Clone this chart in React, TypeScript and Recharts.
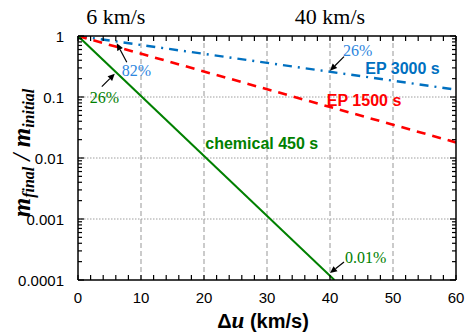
import React from "react";
import { LineChart, Line, XAxis, YAxis, ReferenceLine, ReferenceDot } from "recharts";

const SERIF = "'Times New Roman', 'Liberation Serif', serif";
const SANS = "Arial, 'Liberation Sans', sans-serif";

const BLUE = "#0070C0";
const LIGHT_BLUE = "#2E86DE";
const RED = "#FF0000";
const GREEN = "#008000";

// mass ratio m_final / m_initial against delta-u (km/s)
const chemical = [
  { du: 0, m: 1 },
  { du: 40.7, m: 0.0001 },
];
const ep1500 = [
  { du: 0, m: 1 },
  { du: 60, m: 0.018 },
];
const ep3000 = [
  { du: 0, m: 1 },
  { du: 60, m: 0.132 },
];

const xTicks = [0, 10, 20, 30, 40, 50, 60];
const xMinor = Array.from({ length: 31 }, (_, i) => i * 2);
const yTicks = [1, 0.1, 0.01, 0.001, 0.0001];
const yTickLabels = ["1", "0.1", "0.01", "0.001", "0.0001"];
const yMinor = yTicks
  .slice(1)
  .flatMap((d) => [1, 2, 3, 4, 5, 6, 7, 8, 9].map((k) => k * d))
  .concat([1]);

const topLabels = [
  { du: 6, text: "6 km/s" },
  { du: 40, text: "40 km/s" },
];

const callouts = [
  { du: 6, m: 0.82, text: "82%", color: LIGHT_BLUE, tip: [1, 2], tail: [11, 21], txt: [6, 35] },
  { du: 6, m: 0.26, text: "26%", color: GREEN, tip: [-1, 2], tail: [-14, 15], txt: [-26, 31] },
  { du: 40, m: 0.26, text: "26%", color: LIGHT_BLUE, tip: [0, -1], tail: [14, -15], txt: [13, -16] },
  { du: 40, m: 0.0001, text: "0.01%", color: GREEN, tip: [0, -7], tail: [14, -18], txt: [15, -17] },
];

const seriesLabels = [
  { du: 45.6, m: 0.238, text: "EP 3000 s", color: BLUE },
  { du: 39.5, m: 0.0711, text: "EP 1500 s", color: RED },
  { du: 20.2, m: 0.0141, text: "chemical 450 s", color: GREEN },
];

const isDecade = (v: number) => Math.abs(Math.log10(v) - Math.round(Math.log10(v))) < 1e-6;

function BottomTick({ x, y, payload }: any) {
  const v = payload.value;
  return (
    <g>
      <line x1={x} y1={y} x2={x} y2={y - 5} stroke="#000" strokeWidth={1.2} />
      {xTicks.includes(v) && (
        <text x={x} y={y + 23} textAnchor="middle" fontFamily={SANS} fontSize={15} fill="#000">
          {v}
        </text>
      )}
    </g>
  );
}

function TopTick({ x, y, payload }: any) {
  const v = payload.value;
  const lab = topLabels.find((t) => t.du === v);
  return (
    <g>
      <line x1={x} y1={y} x2={x} y2={y + 5} stroke="#000" strokeWidth={1.2} />
      {lab && (
        <text x={x} y={y - 12} textAnchor="middle" fontFamily={SERIF} fontSize={22} fill="#000">
          {lab.text}
        </text>
      )}
    </g>
  );
}

function LeftTick({ x, y, payload }: any) {
  const v = payload.value;
  const major = isDecade(v);
  const idx = yTicks.findIndex((t) => Math.abs(t - v) / t < 1e-6);
  return (
    <g>
      <line x1={x} y1={y} x2={x + (major ? 6 : 4)} y2={y} stroke="#000" strokeWidth={1.2} />
      {idx >= 0 && (
        <text x={x - 14} y={y + 5.5} textAnchor="end" fontFamily={SANS} fontSize={15} fill="#000">
          {yTickLabels[idx]}
        </text>
      )}
    </g>
  );
}

function RightTick({ x, y, payload }: any) {
  const major = isDecade(payload.value);
  return <line x1={x} y1={y} x2={x - (major ? 6 : 4)} y2={y} stroke="#000" strokeWidth={1.2} />;
}

function YLabel({ viewBox }: any) {
  const cx = viewBox.x - 47;
  const cy = viewBox.y + viewBox.height / 2 - 5;
  return (
    <text
      x={cx}
      y={cy}
      transform={`rotate(-90, ${cx}, ${cy})`}
      textAnchor="middle"
      fontFamily={SERIF}
      fontWeight="bold"
      fontStyle="italic"
      fontSize={25}
      fill="#000"
    >
      <tspan>m</tspan>
      <tspan fontSize={16} dy={4}>final</tspan>
      <tspan dy={-4}> / m</tspan>
      <tspan fontSize={16} dy={4}>initial</tspan>
    </text>
  );
}

function XLabel({ viewBox }: any) {
  const cx = viewBox.x + viewBox.width / 2 - 4;
  const cy = viewBox.y + 48;
  return (
    <text x={cx} y={cy} textAnchor="middle" fontSize={20} fontWeight="bold" fill="#000" fontFamily={SANS}>
      <tspan>Δ</tspan>
      <tspan fontFamily={SERIF} fontStyle="italic" fontSize={23}>u</tspan>
      <tspan> (km/s)</tspan>
    </text>
  );
}

function Callout({ cx, cy, c }: any) {
  const tx = cx + c.tip[0];
  const ty = cy + c.tip[1];
  const sx = cx + c.tail[0];
  const sy = cy + c.tail[1];
  const a = Math.atan2(ty - sy, tx - sx);
  const L = 7;
  const W = 3.2;
  const bx = tx - L * Math.cos(a);
  const by = ty - L * Math.sin(a);
  const p1 = `${bx + W * Math.sin(a)},${by - W * Math.cos(a)}`;
  const p2 = `${bx - W * Math.sin(a)},${by + W * Math.cos(a)}`;
  return (
    <g>
      <line x1={sx} y1={sy} x2={bx} y2={by} stroke="#000" strokeWidth={1.2} />
      <polygon points={`${tx},${ty} ${p1} ${p2}`} fill="#000" />
      <text x={cx + c.txt[0]} y={cy + c.txt[1]} fontFamily={SERIF} fontSize={16} fill={c.color}>
        {c.text}
      </text>
    </g>
  );
}

function SeriesLabel({ cx, cy, s }: any) {
  return (
    <text x={cx} y={cy} fontFamily={SANS} fontWeight="bold" fontSize={16} fill={s.color}>
      {s.text}
    </text>
  );
}

const axisLine = { stroke: "#000", strokeWidth: 1.5 };

export default function App() {
  return (
    <div style={{ position: "absolute", left: 0, top: 0, width: 465, height: 333, background: "#fff" }}>
      <LineChart width={465} height={333} margin={{ top: 35, right: 8, bottom: 52, left: 77 }}>
        <XAxis
          xAxisId="b"
          dataKey="du"
          type="number"
          domain={[0, 60]}
          ticks={xMinor}
          interval={0}
          allowDataOverflow
          height={1}
          tickSize={0}
          tickMargin={0}
          tickLine={false}
          axisLine={axisLine}
          tick={<BottomTick />}
          label={<XLabel />}
        />
        <XAxis
          xAxisId="t"
          orientation="top"
          dataKey="du"
          type="number"
          domain={[0, 60]}
          ticks={xMinor}
          interval={0}
          allowDataOverflow
          height={1}
          tickSize={0}
          tickMargin={0}
          tickLine={false}
          axisLine={axisLine}
          tick={<TopTick />}
        />
        <YAxis
          yAxisId="l"
          type="number"
          scale="log"
          domain={[0.0001, 1]}
          ticks={yMinor}
          interval={0}
          allowDataOverflow
          width={1}
          tickSize={0}
          tickMargin={0}
          tickLine={false}
          axisLine={axisLine}
          tick={<LeftTick />}
          label={<YLabel />}
        />
        <YAxis
          yAxisId="r"
          orientation="right"
          type="number"
          scale="log"
          domain={[0.0001, 1]}
          ticks={yMinor}
          interval={0}
          allowDataOverflow
          width={1}
          tickSize={0}
          tickMargin={0}
          tickLine={false}
          axisLine={axisLine}
          tick={<RightTick />}
        />
        {xTicks.slice(1, -1).map((v) => (
          <ReferenceLine
            key={`vx${v}`}
            xAxisId="b"
            yAxisId="l"
            x={v}
            stroke="#BFBFBF"
            strokeWidth={1.6}
            strokeDasharray="5 3"
          />
        ))}
        {yTicks.slice(1, -1).map((v) => (
          <ReferenceLine
            key={`hy${v}`}
            xAxisId="b"
            yAxisId="l"
            y={v}
            stroke="#9E9E9E"
            strokeWidth={1}
            strokeDasharray="1.5 1.5"
          />
        ))}
        <Line
          xAxisId="b"
          yAxisId="l"
          data={ep3000}
          dataKey="m"
          type="linear"
          stroke={BLUE}
          strokeWidth={2.4}
          strokeDasharray="9 6 2 6"
          dot={false}
          isAnimationActive={false}
        />
        <Line
          xAxisId="b"
          yAxisId="l"
          data={ep1500}
          dataKey="m"
          type="linear"
          stroke={RED}
          strokeWidth={2.6}
          strokeDasharray="9 7"
          dot={false}
          isAnimationActive={false}
        />
        <Line
          xAxisId="b"
          yAxisId="l"
          data={chemical}
          dataKey="m"
          type="linear"
          stroke={GREEN}
          strokeWidth={2}
          dot={false}
          isAnimationActive={false}
        />
        {seriesLabels.map((s) => (
          <ReferenceDot
            key={s.text}
            xAxisId="b"
            yAxisId="l"
            x={s.du}
            y={s.m}
            r={0}
            ifOverflow="visible"
            shape={(p: any) => <SeriesLabel cx={p.cx} cy={p.cy} s={s} />}
          />
        ))}
        {callouts.map((c, i) => (
          <ReferenceDot
            key={`c${i}`}
            xAxisId="b"
            yAxisId="l"
            x={c.du}
            y={c.m}
            r={0}
            ifOverflow="visible"
            shape={(p: any) => <Callout cx={p.cx} cy={p.cy} c={c} />}
          />
        ))}
      </LineChart>
    </div>
  );
}
